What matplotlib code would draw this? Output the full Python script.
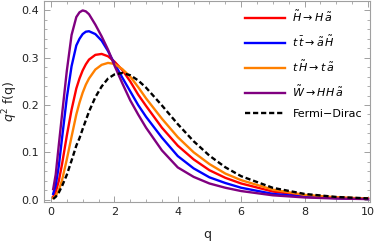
import numpy as np
import matplotlib
matplotlib.use("Agg")
import matplotlib.pyplot as plt
from matplotlib.ticker import MultipleLocator

# values
q = [0.07, 0.15, 0.25, 0.35, 0.5, 0.65, 0.8, 0.9, 1.0, 1.1, 1.2, 1.4, 1.6, 1.8,
     2.0, 2.25, 2.5, 2.75, 3.0, 3.5, 4.0, 4.5, 5.0, 5.5, 6.0, 7.0, 8.0, 9.0,
     10.0]

red = [0.006, 0.016, 0.040, 0.075, 0.135, 0.190, 0.235, 0.256, 0.273, 0.286,
       0.296, 0.306, 0.308, 0.303, 0.292, 0.274, 0.250, 0.222, 0.198, 0.152,
       0.114, 0.085, 0.062, 0.046, 0.034, 0.017, 0.0085, 0.004, 0.0019]
blue = [0.012, 0.030, 0.072, 0.130, 0.215, 0.282, 0.326, 0.340, 0.350, 0.355,
        0.356, 0.350, 0.336, 0.314, 0.288, 0.258, 0.229, 0.200, 0.175, 0.131,
        0.092, 0.066, 0.047, 0.035, 0.025, 0.012, 0.006, 0.003, 0.0014]
orange = [0.003, 0.008, 0.020, 0.041, 0.085, 0.133, 0.180, 0.205, 0.226, 0.243,
          0.256, 0.275, 0.285, 0.289, 0.287, 0.276, 0.260, 0.238, 0.214, 0.171,
          0.132, 0.100, 0.075, 0.055, 0.041, 0.021, 0.010, 0.0048, 0.0022]
purple = [0.022, 0.053, 0.117, 0.180, 0.272, 0.348, 0.386, 0.396, 0.400, 0.398,
          0.392, 0.370, 0.345, 0.317, 0.284, 0.246, 0.210, 0.180, 0.152, 0.104,
          0.068, 0.048, 0.034, 0.025, 0.018, 0.009, 0.0045, 0.0022, 0.0010]
fermi_dirac = [0.0013, 0.0058, 0.0152, 0.0286, 0.0523, 0.0826, 0.1141, 0.1298,
               0.1492, 0.1677, 0.1861, 0.2165, 0.2393, 0.2560, 0.2645, 0.2677,
               0.2630, 0.2520, 0.2367, 0.1991, 0.1596, 0.1234, 0.0928, 0.0683,
               0.0494, 0.0248, 0.0119, 0.0055, 0.0025]

labels = [r"$\tilde{H}\rightarrow H\,\tilde{a}$",
          r"$t\,\bar{t}\rightarrow \tilde{a}\,\tilde{H}$",
          r"$t\,\tilde{H}\rightarrow t\,\tilde{a}$",
          r"$\tilde{W}\rightarrow H H\,\tilde{a}$",
          "Fermi\u2212Dirac"]

plt.rcParams["mathtext.fontset"] = "dejavusans"

fig = plt.figure(figsize=(3.74, 2.43), dpi=100)
ax = fig.add_axes([0.1176, 0.169, 0.8714, 0.827])

lw = 1.7
ax.plot(q, red, color="#ff0000", lw=lw, label=labels[0])
ax.plot(q, blue, color="#0000ff", lw=lw, label=labels[1])
ax.plot(q, orange, color="#ff8000", lw=lw, label=labels[2])
ax.plot(q, purple, color="#800080", lw=lw, label=labels[3])
ax.plot(q, fermi_dirac, color="black", lw=lw, dashes=(2.2, 1.2),
        label=labels[4])

ax.set_xlim(-0.22, 10.06)
ax.set_ylim(-0.005, 0.42)
ax.xaxis.set_major_locator(MultipleLocator(2))
ax.xaxis.set_minor_locator(MultipleLocator(0.5))
ax.yaxis.set_major_locator(MultipleLocator(0.1))
ax.yaxis.set_minor_locator(MultipleLocator(0.02))
ax.yaxis.set_major_formatter(matplotlib.ticker.FormatStrFormatter("%.1f"))

for s in ax.spines.values():
    s.set_color("#a0a0a0")
    s.set_linewidth(0.8)
ax.tick_params(which="both", direction="in", top=True, right=True,
               color="#a0a0a0", labelsize=8, labelcolor="#222222")
ax.tick_params(which="major", length=4, width=0.7)
ax.tick_params(which="minor", length=2, width=0.6)

ax.set_xlabel("q", fontsize=9, color="#222222", labelpad=8)
ax.set_ylabel(r"$q^2$ f(q)", fontsize=9, color="#222222")
ax.yaxis.set_label_coords(-0.074, 0.5)

ax.legend(loc="upper right", frameon=False, fontsize=8, handlelength=3.6,
          handletextpad=0.7, labelspacing=0.9, borderaxespad=0.3)

fig.savefig("out.png", dpi=100)
